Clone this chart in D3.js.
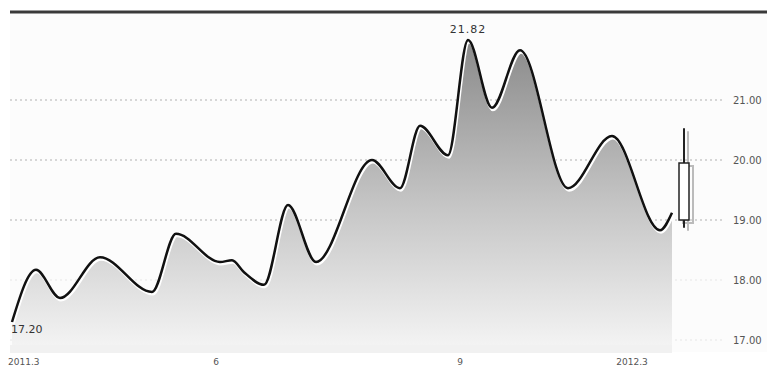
<!DOCTYPE html>
<html>
<head>
<meta charset="utf-8">
<script src="https://cdn.jsdelivr.net/npm/d3@7"></script>
<style>
  body { margin: 0; background: #fff; }
  svg text { font-family: "DejaVu Sans", sans-serif; }
</style>
</head>
<body>
<svg id="chart"></svg>
<script>
// trading-day index and closing price
const days = [0, 6, 12, 22, 35, 41, 52, 55, 58, 63, 69, 76, 90, 97, 102, 109, 114, 120, 127, 139, 150, 162, 165];
const prices = [17.30, 18.17, 17.70, 18.38, 17.80, 18.77, 18.30, 18.33, 18.13, 17.92, 19.25, 18.30,
  20.00, 19.53, 20.57, 20.08, 22.00, 20.87, 21.83, 19.53, 20.40, 18.83, 19.12];

// last-day candle: day, open, high, low, close
const candle = { day: 168, open: 19.00, high: 20.53, low: 18.87, close: 19.95 };

const yTicks = [17, 18, 19, 20, 21];
const yTickLabels = ['17.00', '18.00', '19.00', '20.00', '21.00'];
const xTicks = [0, 51, 112, 155];
const xTickLabels = ['2011.3', '6', '9', '2012.3'];

const minLabel = '17.20';
const maxLabel = '21.82';

const config = {
  width: 767,
  height: 368,
  plotLeft: 12,
  plotRight: 672,
  gridRight: 722,
};

const data = days.map((d, i) => ({ day: d, price: prices[i] }));

const svg = d3.select('#chart')
  .attr('width', config.width)
  .attr('height', config.height);

const xScale = d3.scaleLinear()
  .domain([0, 165])
  .range([config.plotLeft, config.plotRight]);

const yScale = d3.scaleLinear()
  .domain([17, 21])
  .range([340, 100]);

// plot background
svg.append('rect')
  .attr('x', 10).attr('y', 12)
  .attr('width', config.width - 10).attr('height', 340)
  .attr('fill', '#fcfcfc');
svg.append('rect')
  .attr('x', 10).attr('y', 345)
  .attr('width', config.plotRight - 10).attr('height', 8)
  .attr('fill', '#f1f1f1');

// gradient for the area
const defs = svg.append('defs');
const grad = defs.append('linearGradient')
  .attr('id', 'areaGrad')
  .attr('x1', 0).attr('y1', 0).attr('x2', 0).attr('y2', 1);
grad.append('stop').attr('offset', '0%').attr('stop-color', '#8a8a8a');
grad.append('stop').attr('offset', '55%').attr('stop-color', '#c6c6c6');
grad.append('stop').attr('offset', '100%').attr('stop-color', '#f3f3f3');

// gridlines
svg.append('g')
  .selectAll('line')
  .data(yTicks)
  .join('line')
  .attr('x1', 10)
  .attr('x2', config.gridRight)
  .attr('y1', (d) => yScale(d))
  .attr('y2', (d) => yScale(d))
  .attr('stroke', (d, i) => (i < 2 ? '#e6e6e6' : '#b0b0b0'))
  .attr('stroke-width', 1)
  .attr('stroke-dasharray', '2,3');

const area = d3.area()
  .x((d) => xScale(d.day))
  .y0(345)
  .y1((d) => yScale(d.price))
  .curve(d3.curveMonotoneX);

const line = d3.line()
  .x((d) => xScale(d.day))
  .y((d) => yScale(d.price))
  .curve(d3.curveMonotoneX);

svg.append('path')
  .datum(data)
  .attr('d', area)
  .attr('fill', 'url(#areaGrad)');

// white halo under the line
svg.append('path')
  .datum(data)
  .attr('d', line)
  .attr('transform', 'translate(1,2)')
  .attr('fill', 'none')
  .attr('stroke', '#fff')
  .attr('stroke-width', 3);

svg.append('path')
  .datum(data)
  .attr('d', line)
  .attr('fill', 'none')
  .attr('stroke', '#111')
  .attr('stroke-width', 2.5);

// candle with shadow
const cx = xScale(candle.day);
const bodyTop = yScale(Math.max(candle.open, candle.close));
const bodyBot = yScale(Math.min(candle.open, candle.close));
const candleG = svg.append('g');
candleG.append('line')
  .attr('x1', cx + 4).attr('x2', cx + 4)
  .attr('y1', yScale(candle.high) + 3).attr('y2', yScale(candle.low) + 3)
  .attr('stroke', '#bbb').attr('stroke-width', 2);
candleG.append('rect')
  .attr('x', cx - 5 + 4).attr('y', bodyTop + 3)
  .attr('width', 10).attr('height', bodyBot - bodyTop)
  .attr('fill', 'none').attr('stroke', '#bbb').attr('stroke-width', 2);
candleG.append('line')
  .attr('x1', cx).attr('x2', cx)
  .attr('y1', yScale(candle.high)).attr('y2', yScale(candle.low))
  .attr('stroke', '#222').attr('stroke-width', 2);
candleG.append('rect')
  .attr('x', cx - 5).attr('y', bodyTop)
  .attr('width', 10).attr('height', bodyBot - bodyTop)
  .attr('fill', '#fff').attr('stroke', '#222').attr('stroke-width', 1.5);

// top border
svg.append('line')
  .attr('x1', 10).attr('x2', config.width)
  .attr('y1', 12).attr('y2', 12)
  .attr('stroke', '#3a3a3a')
  .attr('stroke-width', 3);

// right axis labels
svg.append('g')
  .selectAll('text')
  .data(yTicks)
  .join('text')
  .attr('x', 733)
  .attr('y', (d) => yScale(d) + 4)
  .attr('font-size', 10)
  .attr('fill', '#555')
  .text((d, i) => yTickLabels[i]);

// bottom axis labels
svg.append('g')
  .selectAll('text')
  .data(xTicks)
  .join('text')
  .attr('x', (d) => xScale(d) + (d === 0 ? -4 : 0))
  .attr('y', 365)
  .attr('text-anchor', (d, i) => (i === 0 ? 'start' : 'middle'))
  .attr('font-size', 9)
  .attr('fill', '#555')
  .text((d, i) => xTickLabels[i]);

// min / max annotations
svg.append('text')
  .attr('x', 11)
  .attr('y', 333)
  .attr('font-size', 11)
  .attr('fill', '#333')
  .text(minLabel);

const peak = data[d3.maxIndex(data, (d) => d.price)];
svg.append('text')
  .attr('x', xScale(peak.day))
  .attr('y', 33)
  .attr('text-anchor', 'middle')
  .attr('font-size', 11)
  .attr('letter-spacing', 1)
  .attr('fill', '#333')
  .text(maxLabel);
</script>
</body>
</html>
